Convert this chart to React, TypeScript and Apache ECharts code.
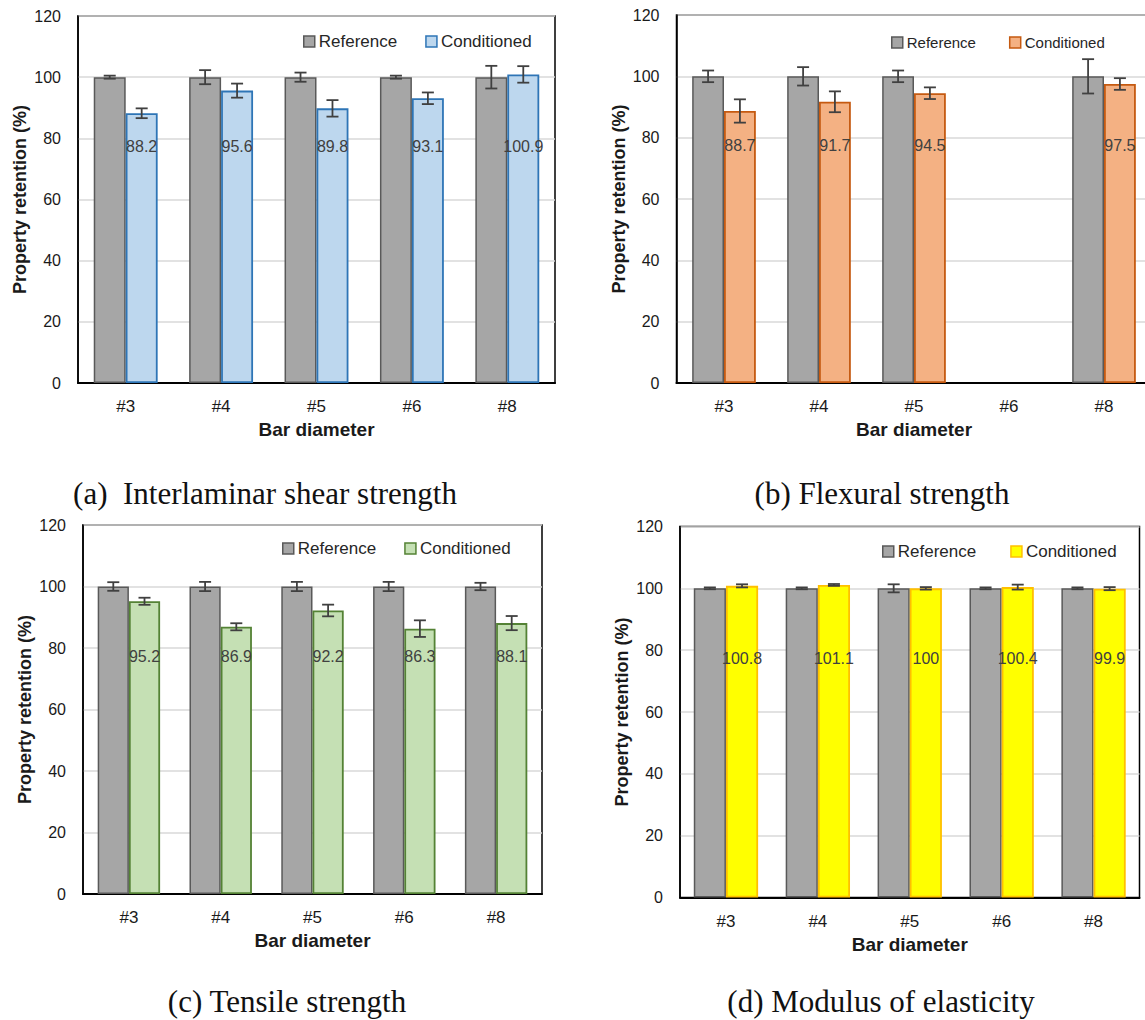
import React, { useEffect, useRef } from 'react';
import * as echarts from 'echarts';

// ---------- data ----------
const categories = ['#3', '#4', '#5', '#6', '#8'];

// (a) Interlaminar shear strength
const ilssReference = [100, 100, 100, 100, 100];
const ilssReferenceErr = [0.5, 2.3, 1.5, 0.5, 3.7];
const ilssConditioned = [88.2, 95.6, 89.8, 93.1, 100.9];
const ilssConditionedErr = [1.6, 2.3, 2.7, 1.9, 2.7];

// (b) Flexural strength (no #6 data)
const flexReference = [100, 100, 100, null, 100];
const flexReferenceErr = [1.9, 3.0, 1.9, null, 5.6];
const flexConditioned = [88.7, 91.7, 94.5, null, 97.5];
const flexConditionedErr = [3.8, 3.4, 1.9, null, 1.9];

// (c) Tensile strength
const tensileReference = [100, 100, 100, 100, 100];
const tensileReferenceErr = [1.4, 1.5, 1.5, 1.5, 1.2];
const tensileConditioned = [95.2, 86.9, 92.2, 86.3, 88.1];
const tensileConditionedErr = [1.15, 1.15, 1.9, 2.7, 2.3];

// (d) Modulus of elasticity
const modulusReference = [100, 100, 100, 100, 100];
const modulusReferenceErr = [0.3, 0.3, 1.3, 0.3, 0.3];
const modulusConditioned = [100.8, 101.1, 100, 100.4, 99.9];
const modulusConditionedErr = [0.5, 0.3, 0.4, 0.8, 0.5];

const captions = [
  '(a)  Interlaminar shear strength',
  '(b) Flexural strength',
  '(c) Tensile strength',
  '(d) Modulus of elasticity',
];
const legendNames = ['Reference', 'Conditioned'];
const yAxisTitle = 'Property retention (%)';
const xAxisTitle = 'Bar diameter';

// ---------- styles / layout ----------
const LABEL_LEVEL = 77.3;
const FONT = '"Liberation Sans", Arial, sans-serif';
const REF_FILL = '#a6a6a6';
const REF_BORDER = '#595959';

const panels = [
  {
    key: 'a', ref: ilssReference, refErr: ilssReferenceErr, cond: ilssConditioned, condErr: ilssConditionedErr,
    grid: { left: 78, top: 16, width: 477, height: 367 }, gap: 0.33,
    fill: '#bdd7ee', border: '#2e75b6',
    legend: { left: 303, top: 33, fontSize: 17, itemGap: 28 },
    caption: { x: 265, y: 493 },
  },
  {
    key: 'b', ref: flexReference, refErr: flexReferenceErr, cond: flexConditioned, condErr: flexConditionedErr,
    grid: { left: 676.5, top: 15, width: 475, height: 368 }, gap: 0.33,
    fill: '#f4b183', border: '#c55a11',
    legend: { left: 891, top: 35, fontSize: 15, itemGap: 33 },
    caption: { x: 882, y: 493 },
  },
  {
    key: 'c', ref: tensileReference, refErr: tensileReferenceErr, cond: tensileConditioned, condErr: tensileConditionedErr,
    grid: { left: 83, top: 525, width: 459, height: 369 }, gap: 0.32,
    fill: '#c5e0b4', border: '#548235',
    legend: { left: 282, top: 540, fontSize: 17, itemGap: 28 },
    caption: { x: 287, y: 1001 },
  },
  {
    key: 'd', ref: modulusReference, refErr: modulusReferenceErr, cond: modulusConditioned, condErr: modulusConditionedErr,
    grid: { left: 680, top: 526.5, width: 459.5, height: 371 }, gap: 0.3,
    fill: '#ffff00', border: '#ffc000',
    legend: { left: 882, top: 543, fontSize: 17, itemGap: 34 },
    caption: { x: 881, y: 1001 },
  },
];

function errorRenderer(sign: number, gap: number) {
  return (params: any, api: any) => {
    const idx = api.value(0);
    const low = api.value(1);
    const high = api.value(2);
    const catW = api.size([1, 0])[0];
    const barW = (catW * (1 - gap)) / 2;
    const pLow = api.coord([idx, low]);
    const pHigh = api.coord([idx, high]);
    const x = pLow[0] + (sign * barW) / 2;
    const cap = 6;
    const style = { stroke: '#404040', lineWidth: 1.8, fill: null };
    return {
      type: 'group',
      children: [
        { type: 'line', shape: { x1: x, y1: pLow[1], x2: x, y2: pHigh[1] }, style },
        { type: 'line', shape: { x1: x - cap, y1: pHigh[1], x2: x + cap, y2: pHigh[1] }, style },
        { type: 'line', shape: { x1: x - cap, y1: pLow[1], x2: x + cap, y2: pLow[1] }, style },
      ],
    };
  };
}

function labelRenderer(gap: number) {
  return (params: any, api: any) => {
    const idx = api.value(0);
    const v = api.value(1);
    const catW = api.size([1, 0])[0];
    const barW = (catW * (1 - gap)) / 2;
    const p = api.coord([idx, LABEL_LEVEL]);
    return {
      type: 'text',
      x: p[0] + barW / 2,
      y: p[1],
      style: {
        text: String(v),
        fill: '#404040',
        font: `16px ${FONT}`,
        align: 'center',
        verticalAlign: 'middle',
      },
    };
  };
}

function errData(vals: (number | null)[], errs: (number | null)[]) {
  const out: number[][] = [];
  vals.forEach((v, i) => {
    const e = errs[i];
    if (v == null || e == null) return;
    out.push([i, v - e, v + e]);
  });
  return out;
}

function buildOption() {
  const grid: any[] = [];
  const xAxis: any[] = [];
  const yAxis: any[] = [];
  const legend: any[] = [];
  const series: any[] = [];
  const graphic: any[] = [];

  panels.forEach((p, k) => {
    grid.push({ ...p.grid, show: true, borderColor: '#000', borderWidth: 1.5, backgroundColor: 'transparent' });
    xAxis.push({
      type: 'category', gridIndex: k, data: categories,
      axisLine: { show: true, lineStyle: { color: '#000', width: 2 } },
      axisTick: { show: false },
      axisLabel: { fontSize: 17, margin: 15, color: '#1a1a1a', fontFamily: FONT },
      name: xAxisTitle, nameLocation: 'middle', nameGap: 37,
      nameTextStyle: { fontSize: 19, fontWeight: 'bold', color: '#1a1a1a', fontFamily: FONT },
    });
    yAxis.push({
      type: 'value', gridIndex: k, min: 0, max: 120, interval: 20,
      axisLine: { show: true, lineStyle: { color: '#000', width: 1.5 } },
      axisTick: { show: false },
      axisLabel: { fontSize: 16, margin: 17, color: '#1a1a1a', fontFamily: FONT },
      splitLine: { show: true, lineStyle: { color: '#d9d9d9', width: 1.5 } },
      name: yAxisTitle, nameLocation: 'middle', nameGap: 49, nameRotate: 90,
      nameTextStyle: { fontSize: 18, fontWeight: 'bold', color: '#1a1a1a', fontFamily: FONT },
    });
    const refName = `${legendNames[0]}|${p.key}`;
    const condName = `${legendNames[1]}|${p.key}`;
    legend.push({
      left: p.legend.left, top: p.legend.top, padding: 0, itemGap: p.legend.itemGap,
      itemWidth: 11, itemHeight: 11, icon: 'rect',
      formatter: (n: string) => n.split('|')[0],
      textStyle: { fontSize: p.legend.fontSize, color: '#262626', fontFamily: FONT, padding: [0, 0, 0, -1] },
      data: [
        { name: refName, itemStyle: { color: REF_FILL, borderColor: REF_BORDER, borderWidth: 1.5 } },
        { name: condName, itemStyle: { color: p.fill, borderColor: p.border, borderWidth: 1.5 } },
      ],
    });
    series.push({
      type: 'bar', name: refName, xAxisIndex: k, yAxisIndex: k, data: p.ref,
      barGap: '0%', barCategoryGap: `${Math.round(p.gap * 100)}%`,
      itemStyle: { color: REF_FILL, borderColor: REF_BORDER, borderWidth: 1.5 },
    });
    series.push({
      type: 'bar', name: condName, xAxisIndex: k, yAxisIndex: k, data: p.cond,
      barGap: '0%', barCategoryGap: `${Math.round(p.gap * 100)}%`,
      itemStyle: { color: p.fill, borderColor: p.border, borderWidth: 1.8 },
    });
    series.push({
      type: 'custom', xAxisIndex: k, yAxisIndex: k, z: 5,
      data: errData(p.ref, p.refErr), encode: { x: 0, y: [1, 2] },
      renderItem: errorRenderer(-1, p.gap),
    });
    series.push({
      type: 'custom', xAxisIndex: k, yAxisIndex: k, z: 5,
      data: errData(p.cond, p.condErr), encode: { x: 0, y: [1, 2] },
      renderItem: errorRenderer(1, p.gap),
    });
    series.push({
      type: 'custom', xAxisIndex: k, yAxisIndex: k, z: 6,
      data: p.cond.map((v, i) => (v == null ? null : [i, v])).filter((d) => d != null),
      encode: { x: 0, y: 1 },
      renderItem: labelRenderer(p.gap),
    });
    graphic.push({
      type: 'text', x: p.caption.x, y: p.caption.y,
      style: {
        text: captions[k], fill: '#111', font: '31px "Liberation Serif", "Times New Roman", serif',
        align: 'center', verticalAlign: 'middle', textAlign: 'center', textVerticalAlign: 'middle',
      },
    });
  });

  return {
    animation: false,
    backgroundColor: '#fff',
    textStyle: { fontFamily: FONT },
    grid, xAxis, yAxis, legend, series, graphic,
  };
}

export default function App() {
  const ref = useRef<HTMLDivElement>(null);
  useEffect(() => {
    if (!ref.current) return;
    const chart = echarts.init(ref.current, undefined, { renderer: 'svg' });
    chart.setOption(buildOption() as any);
    return () => chart.dispose();
  }, []);
  return (
    <div style={{ position: 'absolute', left: 0, top: 0, width: 1145, height: 1020, overflow: 'hidden', background: '#fff' }}>
      <div ref={ref} style={{ width: 1165, height: 1020 }} />
    </div>
  );
}
